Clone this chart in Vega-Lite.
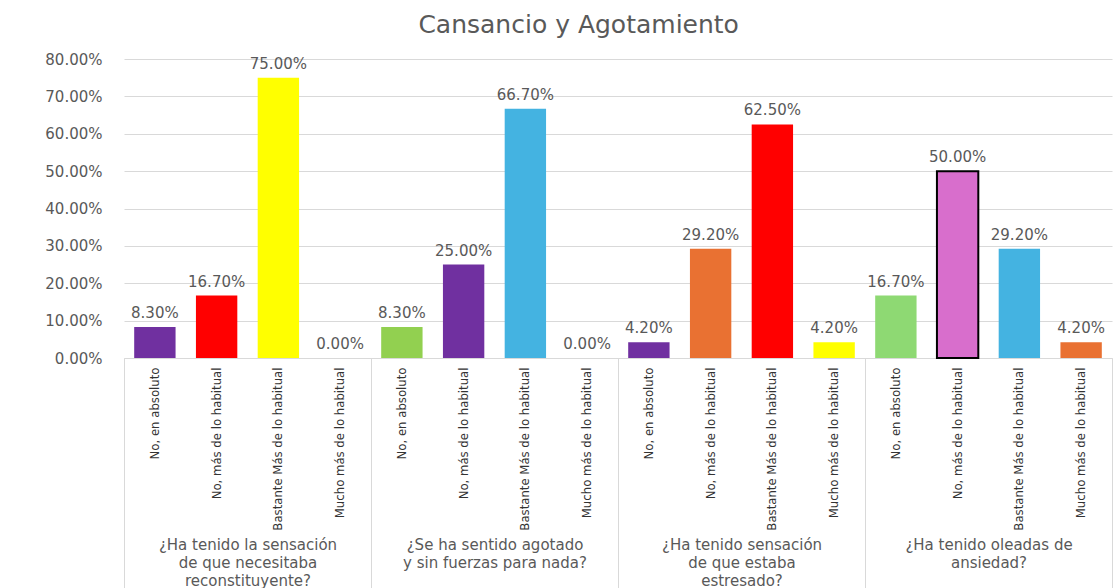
{
  "$schema": "https://vega.github.io/schema/vega-lite/v6.json",
  "width": 988,
  "height": 299,
  "autosize": {"type": "none"},
  "padding": {"left": 124, "top": 59, "right": 8, "bottom": 230},
  "background": "white",
  "title": {
    "text": "Cansancio y Agotamiento",
    "font": "DejaVu Sans",
    "fontSize": 25,
    "fontWeight": "normal",
    "color": "#595959",
    "anchor": "middle",
    "frame": "bounds",
    "offset": -54
  },
  "config": {"view": {"stroke": null}},
  "data": {
    "values": [
      {"group": "¿Ha tenido la sensación|de que necesitaba|reconstituyente?", "key": "1|No, en absoluto", "value": 0.083},
      {"group": "¿Ha tenido la sensación|de que necesitaba|reconstituyente?", "key": "1|No, más de lo habitual", "value": 0.167},
      {"group": "¿Ha tenido la sensación|de que necesitaba|reconstituyente?", "key": "1|Bastante Más de lo habitual", "value": 0.75},
      {"group": "¿Ha tenido la sensación|de que necesitaba|reconstituyente?", "key": "1|Mucho más de lo habitual", "value": 0.0},
      {"group": "¿Se ha sentido agotado|y sin fuerzas para nada?", "key": "2|No, en absoluto", "value": 0.083},
      {"group": "¿Se ha sentido agotado|y sin fuerzas para nada?", "key": "2|No, más de lo habitual", "value": 0.25},
      {"group": "¿Se ha sentido agotado|y sin fuerzas para nada?", "key": "2|Bastante Más de lo habitual", "value": 0.667},
      {"group": "¿Se ha sentido agotado|y sin fuerzas para nada?", "key": "2|Mucho más de lo habitual", "value": 0.0},
      {"group": "¿Ha tenido sensación|de que estaba|estresado?", "key": "3|No, en absoluto", "value": 0.042},
      {"group": "¿Ha tenido sensación|de que estaba|estresado?", "key": "3|No, más de lo habitual", "value": 0.292},
      {"group": "¿Ha tenido sensación|de que estaba|estresado?", "key": "3|Bastante Más de lo habitual", "value": 0.625},
      {"group": "¿Ha tenido sensación|de que estaba|estresado?", "key": "3|Mucho más de lo habitual", "value": 0.042},
      {"group": "¿Ha tenido oleadas de|ansiedad?", "key": "4|No, en absoluto", "value": 0.167},
      {"group": "¿Ha tenido oleadas de|ansiedad?", "key": "4|No, más de lo habitual", "value": 0.5},
      {"group": "¿Ha tenido oleadas de|ansiedad?", "key": "4|Bastante Más de lo habitual", "value": 0.292},
      {"group": "¿Ha tenido oleadas de|ansiedad?", "key": "4|Mucho más de lo habitual", "value": 0.042}
    ]
  },
  "encoding": {
    "y": {
      "field": "value", "type": "quantitative",
      "scale": {"domain": [0, 0.8]},
      "axis": {
        "title": null,
        "values": [0, 0.1, 0.2, 0.3, 0.4, 0.5, 0.6, 0.7, 0.8],
        "tickCount": 12,
        "format": ".2%",
        "domain": false,
        "ticks": false,
        "grid": true,
        "gridColor": "#d9d9d9",
        "labelFont": "DejaVu Sans",
        "labelFontSize": 15,
        "labelColor": "#595959",
        "labelPadding": 22,
        "labelOverlap": false
      }
    }
  },
  "resolve": {"scale": {"x": "independent"}, "axis": {"x": "independent"}},
  "layer": [
    {
      "mark": {"type": "bar", "opacity": 0},
      "encoding": {
        "x": {
          "field": "group", "type": "nominal", "sort": null,
          "scale": {"type": "band", "paddingInner": 0, "paddingOuter": 0},
          "axis": {
            "orient": "bottom",
            "title": null,
            "domain": false,
            "grid": false,
            "ticks": true,
            "tickBand": "extent",
            "tickSize": 230,
            "tickColor": "#d9d9d9",
            "tickWidth": 1,
            "labelAngle": 0,
            "labelAlign": "center",
            "labelBaseline": "top",
            "labelPadding": -51,
            "labelExpr": "split(datum.label, '|')",
            "labelFont": "DejaVu Sans",
            "labelFontSize": 15,
            "labelLineHeight": 18,
            "labelColor": "#595959",
            "labelLimit": 400
          }
        }
      }
    },
    {
      "mark": {"type": "bar"},
      "encoding": {
        "x": {
          "field": "key", "type": "nominal", "sort": null,
          "scale": {"type": "band", "paddingInner": 0.33, "paddingOuter": 0.165},
          "axis": {
            "orient": "bottom",
            "title": null,
            "domain": true,
            "domainColor": "#d9d9d9",
            "ticks": false,
            "grid": false,
            "labelAngle": 270,
            "labelPadding": 9,
            "labelExpr": "split(datum.label, '|')[1]",
            "labelFont": "DejaVu Sans Condensed, Liberation Sans Narrow, sans-serif",
            "labelFontSize": 13,
            "labelColor": "#333333",
            "labelLimit": 300
          }
        },
        "color": {
          "field": "key", "type": "nominal", "legend": null,
          "scale": {
            "domain": ["1|No, en absoluto", "1|No, más de lo habitual", "1|Bastante Más de lo habitual", "1|Mucho más de lo habitual",
                       "2|No, en absoluto", "2|No, más de lo habitual", "2|Bastante Más de lo habitual", "2|Mucho más de lo habitual",
                       "3|No, en absoluto", "3|No, más de lo habitual", "3|Bastante Más de lo habitual", "3|Mucho más de lo habitual",
                       "4|No, en absoluto", "4|No, más de lo habitual", "4|Bastante Más de lo habitual", "4|Mucho más de lo habitual"],
            "range": ["#7030A0", "#FF0000", "#FFFF00", "#7030A0",
                      "#92D050", "#7030A0", "#44B3E1", "#44B3E1",
                      "#7030A0", "#E97132", "#FF0000", "#FFFF00",
                      "#8ED973", "#D86ECC", "#44B3E1", "#E97132"]
          }
        },
        "stroke": {
          "condition": {"test": "datum.key === '4|No, más de lo habitual'", "value": "#000000"},
          "value": null
        },
        "strokeWidth": {"value": 2}
      }
    },
    {
      "mark": {"type": "text", "baseline": "alphabetic", "dy": -9, "font": "DejaVu Sans", "fontSize": 15, "color": "#595959"},
      "encoding": {
        "x": {"field": "key", "type": "nominal", "sort": null, "scale": {"type": "band", "paddingInner": 0.33, "paddingOuter": 0.165}, "axis": null},
        "text": {"field": "value", "type": "quantitative", "format": ".2%"}
      }
    }
  ]
}
